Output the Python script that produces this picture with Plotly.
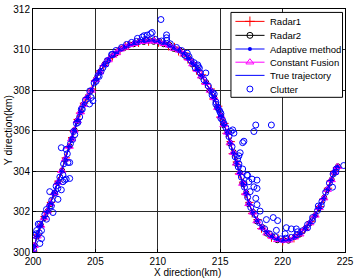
import plotly.graph_objects as go

# ---------------- data ----------------
TRUE_X = [200.0,200.1,200.35,200.6,200.9,201.15,201.4,201.7,202.0,202.3,202.6,202.9,203.1,203.3,203.55,203.8,204.05,204.35,204.7,205.0,205.35,205.7,206.05,206.4,206.7,207.0,207.35,207.7,208.1,208.5,208.9,209.3,209.7,210.1,210.5,210.9,211.3,211.7,212.1,212.45,212.8,213.15,213.5,213.85,214.2,214.5,214.8,215.05,215.3,215.55,215.8,216.05,216.3,216.55,216.8,217.05,217.3,217.6,217.95,218.35,218.75,219.15,219.6,220.05,220.5,220.95,221.4,221.8,222.2,222.6,222.95,223.3,223.6,223.9,224.15,224.4]
TRUE_Y = [300.0,300.3,300.8,301.3,301.7,302.0,302.4,302.9,303.45,304.0,304.6,305.2,305.6,306.0,306.5,306.9,307.3,307.65,308.0,308.5,308.9,309.25,309.5,309.7,309.85,310.0,310.12,310.22,310.3,310.37,310.41,310.43,310.42,310.38,310.3,310.2,310.07,309.95,309.78,309.55,309.3,309.0,308.7,308.35,308.0,307.6,307.15,306.7,306.3,305.9,305.4,304.9,304.4,303.9,303.4,302.9,302.4,301.95,301.55,301.2,300.95,300.75,300.62,300.57,300.6,300.72,300.9,301.15,301.45,301.8,302.2,302.65,303.1,303.55,303.95,304.2]

R1_X = [200.03,200.08,200.38,200.57,200.93,201.12,201.44,201.67,202.04,202.27,202.63,202.87,203.14,203.27,203.58,203.77,204.09,204.32,204.73,204.97,205.39,205.67,206.09,206.37,206.74,206.97,207.39,207.66,208.14,208.46,208.94,209.26,209.74,210.06,210.54,210.86,211.34,211.66,212.14,212.41,212.84,213.11,213.54,213.81,214.24,214.46,214.84,215.01,215.34,215.51,215.84,216.01,216.34,216.51,216.84,217.01,217.34,217.56,217.99,218.31,218.79,219.11,219.64,220.01,220.54,220.91,221.44,221.76,222.24,222.56,222.99,223.26,223.64,223.86,224.19,224.36]
R1_Y = [300.04,300.26,300.85,301.26,301.75,301.96,302.45,302.86,303.5,303.96,304.65,305.16,305.65,305.96,306.55,306.86,307.35,307.61,308.05,308.46,308.95,309.21,309.55,309.66,309.9,309.96,310.17,310.18,310.35,310.33,310.46,310.39,310.47,310.34,310.35,310.16,310.12,309.91,309.83,309.51,309.35,308.96,308.75,308.31,308.05,307.56,307.2,306.66,306.35,305.86,305.45,304.86,304.45,303.86,303.45,302.86,302.45,301.91,301.6,301.16,301.0,300.71,300.67,300.53,300.65,300.68,300.95,301.11,301.5,301.76,302.25,302.61,303.15,303.51,304.0,304.16]

R2_X = [199.97,200.12,200.32,200.63,200.87,201.18,201.37,201.73,201.97,202.33,202.57,202.93,203.07,203.33,203.52,203.83,204.02,204.38,204.67,205.03,205.32,205.73,206.02,206.43,206.67,207.03,207.32,207.73,208.07,208.53,208.87,209.33,209.67,210.13,210.47,210.93,211.27,211.73,212.07,212.48,212.77,213.18,213.47,213.88,214.17,214.53,214.77,215.08,215.27,215.58,215.77,216.08,216.27,216.58,216.77,217.08,217.27,217.63,217.92,218.38,218.72,219.18,219.57,220.08,220.47,220.98,221.37,221.83,222.17,222.63,222.92,223.33,223.57,223.93,224.12,224.43]
R2_Y = [299.97,300.33,300.76,301.33,301.66,302.03,302.36,302.93,303.41,304.03,304.56,305.23,305.56,306.03,306.46,306.93,307.26,307.68,307.96,308.53,308.86,309.28,309.46,309.73,309.81,310.03,310.08,310.25,310.26,310.4,310.37,310.46,310.38,310.41,310.26,310.23,310.03,309.98,309.74,309.58,309.26,309.03,308.66,308.38,307.96,307.63,307.11,306.73,306.26,305.93,305.36,304.93,304.36,303.93,303.36,302.93,302.36,301.98,301.51,301.23,300.91,300.78,300.58,300.6,300.56,300.75,300.86,301.18,301.41,301.83,302.16,302.68,303.06,303.58,303.91,304.23]

AD_X = [200.01,200.09,200.36,200.59,200.91,201.14,201.41,201.69,202.01,202.29,202.61,202.89,203.11,203.29,203.56,203.79,204.06,204.34,204.71,204.99,205.36,205.69,206.06,206.39,206.71,206.99,207.36,207.69,208.11,208.49,208.91,209.29,209.71,210.09,210.51,210.89,211.31,211.69,212.11,212.44,212.81,213.14,213.51,213.84,214.21,214.49,214.81,215.04,215.31,215.54,215.81,216.04,216.31,216.54,216.81,217.04,217.31,217.59,217.96,218.34,218.76,219.14,219.61,220.04,220.51,220.94,221.41,221.79,222.21,222.59,222.96,223.29,223.61,223.89,224.16,224.39]
AD_Y = [300.02,300.29,300.82,301.29,301.72,301.99,302.42,302.89,303.47,303.99,304.62,305.19,305.62,305.99,306.52,306.89,307.32,307.64,308.02,308.49,308.92,309.24,309.52,309.69,309.87,309.99,310.14,310.21,310.32,310.36,310.43,310.42,310.44,310.37,310.32,310.19,310.09,309.94,309.8,309.54,309.32,308.99,308.72,308.34,308.02,307.59,307.17,306.69,306.32,305.89,305.42,304.89,304.42,303.89,303.42,302.89,302.42,301.94,301.57,301.19,300.97,300.74,300.64,300.56,300.62,300.71,300.92,301.14,301.47,301.79,302.22,302.64,303.12,303.54,303.97,304.19]

CF_X = [200.02,200.11,200.34,200.62,200.89,201.16,201.39,201.71,201.99,202.31,202.59,202.91,203.09,203.31,203.54,203.81,204.04,204.36,204.69,205.01,205.34,205.71,206.04,206.41,206.69,207.01,207.34,207.71,208.09,208.51,208.89,209.31,209.69,210.11,210.49,210.91,211.29,211.71,212.09,212.46,212.79,213.16,213.49,213.86,214.19,214.51,214.79,215.06,215.29,215.56,215.79,216.06,216.29,216.56,216.79,217.06,217.29,217.61,217.94,218.36,218.74,219.16,219.59,220.06,220.49,220.96,221.39,221.81,222.19,222.61,222.94,223.31,223.59,223.91,224.14,224.41]
CF_Y = [299.98,300.31,300.78,301.31,301.68,302.01,302.38,302.91,303.43,304.01,304.58,305.21,305.58,306.01,306.48,306.91,307.28,307.66,307.98,308.51,308.88,309.26,309.48,309.71,309.83,310.01,310.1,310.23,310.28,310.38,310.39,310.44,310.4,310.39,310.28,310.21,310.05,309.96,309.76,309.56,309.28,309.01,308.68,308.36,307.98,307.61,307.13,306.71,306.28,305.91,305.38,304.91,304.38,303.91,303.38,302.91,302.38,301.96,301.53,301.21,300.93,300.76,300.6,300.58,300.58,300.73,300.88,301.16,301.43,301.81,302.18,302.66,303.08,303.56,303.93,304.21]

CLUTTER_X = [210.25,209.55,209.15,208.76,208.37,210.7,210.7,210.72,208.9,209.42,206.35,205.84,205.45,205.3,205.05,204.66,204.8,204.53,203.87,203.74,203.48,203.16,203.35,
             212.36,212.5,213.25,212.9,213.2,213.33,213.85,214.4,214.66,214.8,214.93,215.06,215.06,215.3,215.86,216.0,217.85,217.7,219.1,216.9,216.1,214.52,
             216.8,216.6,216.4,216.5,216.8,217.2,217.55,217.95,217.3,216.9,217.7,217.95,217.4,217.85,217.95,218.2,218.7,219.25,219.6,219.5,220.3,220.7,221.1,220.2,222.0,222.86,223.1,224.0,224.27,224.9,222.4,221.2,216.5,217.15,
             202.27,202.66,202.53,202.66,202.4,201.34,201.74,201.47,201.08,200.55,200.29,200.68,200.16,202.94,201.99,202.4,201.6,200.68,200.25,200.55,200.42,201.08,201.34,202.0,202.27,202.94,202.8,
             200.05,200.5,200.95,201.5,201.85,202.15,202.45,202.75,203.0,203.25,203.6,203.95,204.2,204.55,204.9,205.2,205.6,205.95,206.3,206.65,207.1,207.5,207.9,208.3,209.0,209.8,210.3,211.0,211.5,211.9,212.2,212.65,213.0,213.4,213.7,214.05,214.35,214.65,215.0,215.2,215.45,215.7,215.95,216.2,216.45,216.7,216.95,217.2,217.45,217.8,218.15,218.55,218.95,219.4,219.85,220.25,220.7,221.15,221.6,222.0,222.4,222.8,223.15,223.45,223.75,224.05,224.3]
CLUTTER_Y = [311.48,310.84,310.71,310.62,310.55,310.72,310.58,310.45,310.68,310.78,309.75,309.28,308.92,308.67,308.43,307.63,307.47,307.31,307.05,306.67,306.35,305.55,305.8,
             309.82,309.65,309.15,309.35,309.24,309.08,308.84,307.87,307.4,307.15,307.0,306.83,306.6,306.35,305.95,306.03,306.27,305.95,306.27,305.47,305.87,307.8,
             305.4,304.9,304.6,304.35,304.1,303.78,303.6,303.55,303.47,303.38,303.22,303.14,302.98,302.65,302.34,302.02,301.6,301.7,301.55,301.07,301.2,301.14,301.14,300.9,301.2,302.27,302.3,303.2,303.95,304.27,301.55,301.0,304.75,303.8,
             305.15,305.07,303.55,303.6,303.8,302.98,302.9,302.27,302.1,301.38,301.06,300.66,300.82,304.42,303.14,303.47,301.95,301.06,300.9,300.42,301.38,301.62,302.27,302.6,303.07,303.63,304.42,
             300.1,300.95,301.85,302.55,303.25,303.7,304.35,304.85,305.35,305.95,306.4,307.05,307.5,307.95,308.35,308.7,309.1,309.45,309.75,309.95,310.1,310.25,310.35,310.4,310.5,310.5,310.42,310.28,310.1,309.95,309.7,309.45,309.1,308.85,308.5,308.2,307.75,307.3,306.9,306.5,306.15,305.7,305.2,304.7,304.2,303.7,303.2,302.7,302.2,301.85,301.45,301.15,300.9,300.75,300.65,300.68,300.72,300.85,301.05,301.35,301.7,302.05,302.5,302.95,303.4,303.85,304.1]

X_TICKS = [200, 205, 210, 215, 220, 225]
Y_TICKS = [300, 302, 304, 306, 308, 310, 312]
SERIES_NAMES = ["Radar1", "Radar2", "Adaptive method", "Constant Fusion", "True trajectory", "Clutter"]

# ---------------- styles ----------------
FONT = "Liberation Sans, Arial, Helvetica, sans-serif"
RED = "rgb(255,0,0)"
BLACK = "rgb(0,0,0)"
BLUE = "rgb(0,0,255)"
MAGENTA = "rgb(255,0,255)"

fig = go.Figure()

fig.add_trace(go.Scatter(x=R1_X, y=R1_Y, mode="lines+markers", name=SERIES_NAMES[0],
                         line=dict(color=RED, width=1),
                         marker=dict(symbol="cross-thin", size=6, color=RED, line=dict(color=RED, width=1))))
fig.add_trace(go.Scatter(x=R2_X, y=R2_Y, mode="lines+markers", name=SERIES_NAMES[1],
                         line=dict(color=BLACK, width=1),
                         marker=dict(symbol="circle-open", size=5, color=BLACK, line=dict(width=1))))
fig.add_trace(go.Scatter(x=AD_X, y=AD_Y, mode="lines+markers", name=SERIES_NAMES[2],
                         line=dict(color=BLUE, width=1),
                         marker=dict(symbol="circle", size=5, color=BLUE)))
fig.add_trace(go.Scatter(x=CF_X, y=CF_Y, mode="lines+markers", name=SERIES_NAMES[3],
                         line=dict(color=MAGENTA, width=1),
                         marker=dict(symbol="triangle-up-open", size=7, color=MAGENTA, line=dict(width=1))))
fig.add_trace(go.Scatter(x=TRUE_X, y=TRUE_Y, mode="lines", name=SERIES_NAMES[4],
                         line=dict(color=BLUE, width=1)))
fig.add_trace(go.Scatter(x=CLUTTER_X, y=CLUTTER_Y, mode="markers", name=SERIES_NAMES[5],
                         marker=dict(symbol="circle-open", size=6, color=BLUE, line=dict(width=1))))

# ---------------- custom legend (overlay axes in pixel units of the plot area) ----------------
PLOT_L, PLOT_R, PLOT_T, PLOT_B = 33, 349, 3, 252
LEG_BOX = dict(x0=233.5, x1=346.5, y0=6.5, y1=93.5)
LEG_ROWS = [15.7, 30.0, 44.0, 57.5, 71.0, 85.0]
LEG_LINE = (238.0, 267.5)
LEG_MARK_X = 252.7
LEG_TEXT_X = 271.0

fig.add_trace(go.Scatter(x=[LEG_BOX["x0"], LEG_BOX["x1"], LEG_BOX["x1"], LEG_BOX["x0"], LEG_BOX["x0"]],
                         y=[LEG_BOX["y0"], LEG_BOX["y0"], LEG_BOX["y1"], LEG_BOX["y1"], LEG_BOX["y0"]],
                         mode="lines", fill="toself", fillcolor="white",
                         line=dict(color=BLACK, width=1), xaxis="x2", yaxis="y2",
                         showlegend=False, hoverinfo="skip"))

leg_styles = [
    dict(line=dict(color=RED, width=1), marker=dict(symbol="cross-thin", size=7, color=RED, line=dict(color=RED, width=1))),
    dict(line=dict(color=BLACK, width=1), marker=dict(symbol="circle-open", size=6, color=BLACK, line=dict(width=1))),
    dict(line=dict(color=BLUE, width=1), marker=dict(symbol="circle", size=4, color=BLUE)),
    dict(line=dict(color=MAGENTA, width=1), marker=dict(symbol="triangle-up-open", size=7, color=MAGENTA, line=dict(width=1))),
    dict(line=dict(color=BLUE, width=1), marker=None),
    dict(line=None, marker=dict(symbol="circle-open", size=6, color=BLUE, line=dict(width=1))),
]
for row_y, st in zip(LEG_ROWS, leg_styles):
    if st["line"] is not None:
        fig.add_trace(go.Scatter(x=list(LEG_LINE), y=[row_y, row_y], mode="lines", line=st["line"],
                                 xaxis="x2", yaxis="y2", showlegend=False, hoverinfo="skip"))
    if st["marker"] is not None:
        fig.add_trace(go.Scatter(x=[LEG_MARK_X], y=[row_y], mode="markers", marker=st["marker"],
                                 xaxis="x2", yaxis="y2", showlegend=False, hoverinfo="skip"))

annotations = []
for row_y, name in zip(LEG_ROWS, SERIES_NAMES):
    annotations.append(dict(x=LEG_TEXT_X, y=row_y, xref="x2", yref="y2", text=name, showarrow=False,
                            xanchor="left", yanchor="middle", font=dict(family=FONT, size=9.5, color=BLACK)))

W, H = 357, 278
pw, ph = PLOT_R - PLOT_L, PLOT_B - PLOT_T
annotations.append(dict(x=(189 - PLOT_L) / pw, y=(PLOT_B - 272.6) / ph, xref="paper", yref="paper",
                        text="X direction(km)", showarrow=False, xanchor="center", yanchor="middle",
                        font=dict(family=FONT, size=10, color=BLACK)))
annotations.append(dict(x=(8 - PLOT_L) / pw, y=(PLOT_B - 127) / ph, xref="paper", yref="paper",
                        text="Y direction(km)", showarrow=False, textangle=-90, xanchor="center", yanchor="middle",
                        font=dict(family=FONT, size=10.5, color=BLACK)))

axis_common = dict(showline=True, linecolor=BLACK, linewidth=1, mirror=True,
                   showgrid=True, gridcolor="#2a2a2a", gridwidth=1, zeroline=False,
                   ticks="inside", ticklen=3, tickcolor=BLACK, ticklabeloverflow="allow",
                   tickfont=dict(family=FONT, size=10, color=BLACK))

fig.update_layout(
    width=W, height=H,
    margin=dict(l=PLOT_L, r=W - PLOT_R, t=PLOT_T, b=H - PLOT_B),
    paper_bgcolor="white", plot_bgcolor="white",
    showlegend=False,
    xaxis=dict(range=[200, 225], tickvals=X_TICKS, ticktext=[str(v) for v in X_TICKS], **axis_common),
    yaxis=dict(range=[300, 312], tickvals=Y_TICKS, ticktext=[str(v) for v in Y_TICKS], **axis_common),
    xaxis2=dict(overlaying="x", range=[PLOT_L, PLOT_R], visible=False, fixedrange=True),
    yaxis2=dict(overlaying="y", range=[PLOT_B, PLOT_T], visible=False, fixedrange=True),
    annotations=annotations,
)

fig.write_html("out.html", config={"displayModeBar": False},
               post_script="document.body.style.margin='0';document.body.style.padding='0';")
